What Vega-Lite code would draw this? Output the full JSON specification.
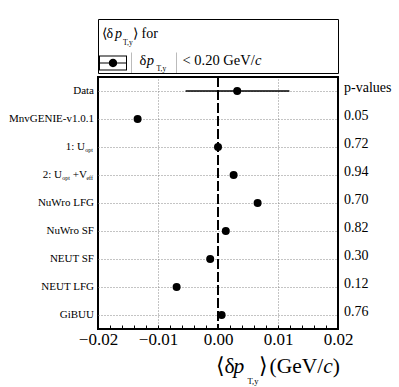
{
  "$schema": "https://vega.github.io/schema/vega-lite/v6.json",
  "width": 240,
  "height": 252,
  "autosize": {"type": "none"},
  "padding": {"left": 98, "top": 77, "right": 61, "bottom": 58},
  "background": "white",
  "config": {
    "font": "Liberation Serif",
    "view": {"stroke": "black", "strokeWidth": 2},
    "axis": {
      "labels": false, "ticks": false, "domain": false, "grid": false,
      "titleFont": "Liberation Serif", "titleFontWeight": "normal", "titleColor": "black",
      "titleAlign": "left", "titleBaseline": "alphabetic", "titleAngle": 0, "titlePadding": 0
    }
  },
  "datasets": {
    "main": [
      {"model": "Data", "value": 0.0032, "lo": -0.0054, "hi": 0.0119, "p": "p-values"},
      {"model": "MnvGENIE-v1.0.1", "value": -0.0134, "p": "0.05"},
      {"model": "1: Uopt", "value": 0.0, "p": "0.72"},
      {"model": "2: Uopt+Veff", "value": 0.0026, "p": "0.94"},
      {"model": "NuWro LFG", "value": 0.0066, "p": "0.70"},
      {"model": "NuWro SF", "value": 0.0013, "p": "0.82"},
      {"model": "NEUT SF", "value": -0.0013, "p": "0.30"},
      {"model": "NEUT LFG", "value": -0.0069, "p": "0.12"},
      {"model": "GiBUU", "value": 0.0006, "p": "0.76"}
    ],
    "labels": [
      {"model": "Data", "piece": "plain", "text": "Data"},
      {"model": "MnvGENIE-v1.0.1", "piece": "plain", "text": "MnvGENIE-v1.0.1"},
      {"model": "1: Uopt", "piece": "a1", "text": "1: U"},
      {"model": "1: Uopt", "piece": "s1", "text": "opt"},
      {"model": "2: Uopt+Veff", "piece": "a2", "text": "2: U"},
      {"model": "2: Uopt+Veff", "piece": "s2", "text": "opt"},
      {"model": "2: Uopt+Veff", "piece": "b2", "text": "+V"},
      {"model": "2: Uopt+Veff", "piece": "e2", "text": "eff"},
      {"model": "NuWro LFG", "piece": "plain", "text": "NuWro LFG"},
      {"model": "NuWro SF", "piece": "plain", "text": "NuWro SF"},
      {"model": "NEUT SF", "piece": "plain", "text": "NEUT SF"},
      {"model": "NEUT LFG", "piece": "plain", "text": "NEUT LFG"},
      {"model": "GiBUU", "piece": "plain", "text": "GiBUU"}
    ]
  },
  "resolve": {"axis": {"x": "independent", "y": "independent"}},
  "layer": [
    {
      "data": {"name": "main"},
      "mark": {"type": "rule", "stroke": "black", "strokeWidth": 1.3, "strokeDash": [10, 3]},
      "encoding": {
        "x": {"datum": 0, "type": "quantitative", "scale": {"domain": [-0.02, 0.02], "nice": false, "zero": false},
          "axis": {"orient": "bottom", "title": "p", "titleX": 135, "titleY": 43, "titleFontSize": 21.5, "titleFontStyle": "italic"}}
      }
    },
    {
      "data": {"name": "main"},
      "transform": [{"filter": "isValid(datum.lo)"}],
      "mark": {"type": "rule", "stroke": "black", "strokeWidth": 1.3},
      "encoding": {
        "x": {"field": "lo", "type": "quantitative", "scale": {"domain": [-0.02, 0.02], "nice": false, "zero": false},
          "axis": {"orient": "bottom", "title": "T,y", "titleX": 149, "titleY": 54, "titleFontSize": 8.5}},
        "x2": {"field": "hi"},
        "y": {"field": "model", "type": "nominal", "scale": {"type": "point", "padding": 0.5, "domain": ["Data", "MnvGENIE-v1.0.1", "1: Uopt", "2: Uopt+Veff", "NuWro LFG", "NuWro SF", "NEUT SF", "NEUT LFG", "GiBUU"]},
          "axis": {"orient": "left", "title": "⟨δ", "titleX": 3, "titleY": -39.5, "titleFontSize": 14}}
      }
    },
    {
      "data": {"name": "main"},
      "mark": {"type": "point", "filled": true, "opacity": 1, "size": 64, "shape": "circle"},
      "encoding": {
        "x": {"field": "value", "type": "quantitative", "scale": {"domain": [-0.02, 0.02], "nice": false, "zero": false},
          "axis": {
            "orient": "bottom",
            "values": [-0.02, -0.018, -0.016, -0.014, -0.012, -0.01, -0.008, -0.006, -0.004, -0.002, 0, 0.002, 0.004, 0.006, 0.008, 0.01, 0.012, 0.014, 0.016, 0.018, 0.02],
            "format": ".2f",
            "labels": true,
            "labelExpr": "abs(datum.value*100 - round(datum.value*100)) < 0.01 ? datum.label : ''",
            "labelFlush": false, "labelOverlap": false,
            "labelFont": "Liberation Serif", "labelFontSize": 17, "labelColor": "black", "labelPadding": 6,
            "ticks": true, "tickSize": -4, "tickColor": "black", "tickWidth": 1,
            "grid": true, "gridColor": "#888", "gridDash": [1, 2], "gridWidth": 1,
            "gridOpacity": {"condition": {"test": "abs(abs(datum.value) - 0.01) < 0.0001", "value": 1}, "value": 0},
            "title": "⟨δ", "titleX": 117, "titleY": 43, "titleFontSize": 21.5
          }},
        "y": {"field": "model", "type": "nominal", "scale": {"type": "point", "padding": 0.5, "domain": ["Data", "MnvGENIE-v1.0.1", "1: Uopt", "2: Uopt+Veff", "NuWro LFG", "NuWro SF", "NEUT SF", "NEUT LFG", "GiBUU"]},
          "axis": {"orient": "left", "grid": true, "gridColor": "#888", "gridDash": [1, 2], "gridWidth": 1,
            "title": "p", "titleX": 16.5, "titleY": -39.5, "titleFontSize": 14, "titleFontStyle": "italic"}},
        "color": {"datum": "sym", "scale": {"range": ["black"]},
          "legend": {"orient": "none", "legendX": 1, "legendY": -28, "title": null, "padding": 0,
            "symbolType": "M-1,-0.536H1V0.536H-1Z M-0.929,-0.464V0.464H0.929V-0.464Z M-0.929,-0.036H0.929V0.036H-0.929Z M0.3,0A0.3,0.3 0 1 1 -0.3,0A0.3,0.3 0 1 1 0.3,0Z",
            "symbolSize": 784, "symbolStrokeWidth": 0, "symbolOpacity": 1, "symbolFillColor": "black",
            "labelExpr": "''", "labelOffset": 0}}
      }
    },
    {
      "data": {"name": "main"},
      "mark": {"type": "text", "align": "left", "baseline": "middle", "dx": 6, "dy": -3.5, "fontSize": 14, "font": "Liberation Serif", "color": "black"},
      "encoding": {
        "x": {"datum": 0.02, "type": "quantitative", "scale": {"domain": [-0.02, 0.02], "nice": false, "zero": false},
          "axis": {"orient": "bottom", "title": "⟩", "titleX": 160.5, "titleY": 43, "titleFontSize": 21.5}},
        "y": {"field": "model", "type": "nominal", "scale": {"type": "point", "padding": 0.5, "domain": ["Data", "MnvGENIE-v1.0.1", "1: Uopt", "2: Uopt+Veff", "NuWro LFG", "NuWro SF", "NEUT SF", "NEUT LFG", "GiBUU"]},
          "axis": {"orient": "left", "title": "T,y", "titleX": 24.5, "titleY": -33, "titleFontSize": 7.5}},
        "text": {"field": "p"}
      }
    },
    {
      "data": {"name": "labels"},
      "transform": [{"filter": "datum.piece == 'plain'"}],
      "mark": {"type": "text", "align": "right", "baseline": "middle", "dx": -4, "fontSize": 11, "font": "Liberation Serif", "color": "black"},
      "encoding": {
        "x": {"datum": -0.02, "type": "quantitative", "scale": {"domain": [-0.02, 0.02], "nice": false, "zero": false},
          "axis": {"orient": "bottom", "title": "(GeV/", "titleX": 171, "titleY": 43, "titleFontSize": 21.5}},
        "y": {"field": "model", "type": "nominal", "scale": {"type": "point", "padding": 0.5, "domain": ["Data", "MnvGENIE-v1.0.1", "1: Uopt", "2: Uopt+Veff", "NuWro LFG", "NuWro SF", "NEUT SF", "NEUT LFG", "GiBUU"]},
          "axis": {"orient": "left", "title": "⟩ for", "titleX": 34.5, "titleY": -39.5, "titleFontSize": 14}},
        "text": {"field": "text"}
      }
    },
    {
      "data": {"name": "labels"},
      "transform": [{"filter": "datum.piece == 'a1'"}],
      "mark": {"type": "text", "align": "right", "baseline": "middle", "dx": -13, "fontSize": 11, "font": "Liberation Serif", "color": "black"},
      "encoding": {
        "x": {"datum": -0.02, "type": "quantitative", "scale": {"domain": [-0.02, 0.02], "nice": false, "zero": false},
          "axis": {"orient": "bottom", "title": "c", "titleX": 224.7, "titleY": 43, "titleFontSize": 21.5, "titleFontStyle": "italic"}},
        "y": {"field": "model", "type": "nominal", "scale": {"type": "point", "padding": 0.5, "domain": ["Data", "MnvGENIE-v1.0.1", "1: Uopt", "2: Uopt+Veff", "NuWro LFG", "NuWro SF", "NEUT SF", "NEUT LFG", "GiBUU"]},
          "axis": {"orient": "left", "title": "δ", "titleX": 41, "titleY": -13, "titleFontSize": 14.5}},
        "text": {"field": "text"}
      }
    },
    {
      "data": {"name": "labels"},
      "transform": [{"filter": "datum.piece == 's1'"}],
      "mark": {"type": "text", "align": "right", "baseline": "alphabetic", "dx": -5, "dy": 5, "fontSize": 6, "font": "Liberation Serif", "color": "black"},
      "encoding": {
        "x": {"datum": -0.02, "type": "quantitative", "scale": {"domain": [-0.02, 0.02], "nice": false, "zero": false},
          "axis": {"orient": "bottom", "title": ")", "titleX": 234.2, "titleY": 43, "titleFontSize": 21.5}},
        "y": {"field": "model", "type": "nominal", "scale": {"type": "point", "padding": 0.5, "domain": ["Data", "MnvGENIE-v1.0.1", "1: Uopt", "2: Uopt+Veff", "NuWro LFG", "NuWro SF", "NEUT SF", "NEUT LFG", "GiBUU"]},
          "axis": {"orient": "left", "title": "p", "titleX": 48.2, "titleY": -13, "titleFontSize": 14.5, "titleFontStyle": "italic"}},
        "text": {"field": "text"}
      }
    },
    {
      "data": {"name": "labels"},
      "transform": [{"filter": "datum.piece == 'a2'"}],
      "mark": {"type": "text", "align": "right", "baseline": "middle", "dx": -36, "fontSize": 11, "font": "Liberation Serif", "color": "black"},
      "encoding": {
        "x": {"datum": -0.02, "type": "quantitative", "scale": {"domain": [-0.02, 0.02], "nice": false, "zero": false},
          "axis": {"orient": "top", "offset": 4, "title": null,
            "values": [-0.02, -0.0145, -0.007, 0.02],
            "domain": true, "domainColor": "black", "domainWidth": 1,
            "ticks": true, "tickWidth": 1,
            "tickSize": {"condition": {"test": "abs(datum.value) > 0.019", "value": 54}, "value": 21},
            "tickColor": {"condition": {"test": "abs(datum.value) > 0.019", "value": "black"}, "value": "#bbbbbb"}}},
        "y": {"field": "model", "type": "nominal", "scale": {"type": "point", "padding": 0.5, "domain": ["Data", "MnvGENIE-v1.0.1", "1: Uopt", "2: Uopt+Veff", "NuWro LFG", "NuWro SF", "NEUT SF", "NEUT LFG", "GiBUU"]},
          "axis": {"orient": "left", "title": "T,y", "titleX": 58, "titleY": -6.5, "titleFontSize": 7.5}},
        "text": {"field": "text"}
      }
    },
    {
      "data": {"name": "labels"},
      "transform": [{"filter": "datum.piece == 's2'"}],
      "mark": {"type": "text", "align": "right", "baseline": "alphabetic", "dx": -28, "dy": 5, "fontSize": 6, "font": "Liberation Serif", "color": "black"},
      "encoding": {
        "x": {"datum": -0.02, "type": "quantitative", "scale": {"domain": [-0.02, 0.02], "nice": false, "zero": false},
          "axis": {"orient": "top", "offset": 58, "title": null, "domain": true, "domainColor": "black", "domainWidth": 1}},
        "y": {"field": "model", "type": "nominal", "scale": {"type": "point", "padding": 0.5, "domain": ["Data", "MnvGENIE-v1.0.1", "1: Uopt", "2: Uopt+Veff", "NuWro LFG", "NuWro SF", "NEUT SF", "NEUT LFG", "GiBUU"]},
          "axis": {"orient": "left", "title": "< 0.20 GeV/", "titleX": 84, "titleY": -13, "titleFontSize": 14.5}},
        "text": {"field": "text"}
      }
    },
    {
      "data": {"name": "labels"},
      "transform": [{"filter": "datum.piece == 'b2'"}],
      "mark": {"type": "text", "align": "right", "baseline": "middle", "dx": -11, "fontSize": 11, "font": "Liberation Serif", "color": "black"},
      "encoding": {
        "x": {"datum": -0.02, "type": "quantitative", "scale": {"domain": [-0.02, 0.02], "nice": false, "zero": false}, "axis": null},
        "y": {"field": "model", "type": "nominal", "scale": {"type": "point", "padding": 0.5, "domain": ["Data", "MnvGENIE-v1.0.1", "1: Uopt", "2: Uopt+Veff", "NuWro LFG", "NuWro SF", "NEUT SF", "NEUT LFG", "GiBUU"]},
          "axis": {"orient": "left", "title": "c", "titleX": 156.5, "titleY": -13, "titleFontSize": 14.5, "titleFontStyle": "italic"}},
        "text": {"field": "text"}
      }
    },
    {
      "data": {"name": "labels"},
      "transform": [{"filter": "datum.piece == 'e2'"}],
      "mark": {"type": "text", "align": "right", "baseline": "alphabetic", "dx": -5, "dy": 5, "fontSize": 6, "font": "Liberation Serif", "color": "black"},
      "encoding": {
        "x": {"datum": -0.02, "type": "quantitative", "scale": {"domain": [-0.02, 0.02], "nice": false, "zero": false}, "axis": null},
        "y": {"field": "model", "type": "nominal", "scale": {"type": "point", "padding": 0.5, "domain": ["Data", "MnvGENIE-v1.0.1", "1: Uopt", "2: Uopt+Veff", "NuWro LFG", "NuWro SF", "NEUT SF", "NEUT LFG", "GiBUU"]}, "axis": null},
        "text": {"field": "text"}
      }
    }
  ]
}
